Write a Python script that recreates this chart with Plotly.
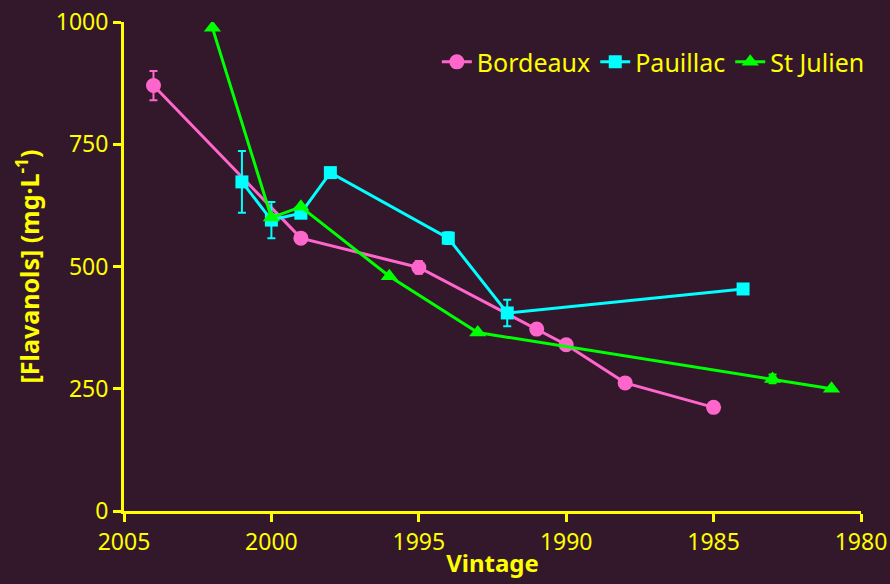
import plotly.graph_objects as go

# Bordeaux
bordeaux_year = [2004, 1999, 1995, 1991, 1990, 1988, 1985]
bordeaux_val = [870, 558, 498, 372, 340, 262, 212]
bordeaux_err = [30, 0, 13, 0, 0, 0, 0]

# Pauillac
pauillac_year = [2001, 2000, 1999, 1998, 1994, 1992, 1984]
pauillac_val = [673, 595, 609, 692, 558, 405, 454]
pauillac_err = [63, 37, 0, 0, 12, 27, 0]

# St Julien
julien_year = [2002, 2000, 1999, 1996, 1993, 1983, 1981]
julien_val = [988, 600, 622, 480, 365, 270, 250]
julien_err = [0, 0, 0, 0, 0, 9, 0]

x_ticks = [2005, 2000, 1995, 1990, 1985, 1980]
y_ticks = [0, 250, 500, 750, 1000]

YELLOW = '#ffff00'
BG = '#33172b'
FONT = 'Comic Sans MS, Noto Sans, DejaVu Sans, sans-serif'

series = [
    ('Bordeaux', bordeaux_year, bordeaux_val, bordeaux_err, '#ff66cc', 'circle', 15),
    ('Pauillac', pauillac_year, pauillac_val, pauillac_err, '#00ffff', 'square', 13),
    ('St Julien', julien_year, julien_val, julien_err, '#00ff00', 'triangle-up', 15),
]

fig = go.Figure()

for name, xs, ys, errs, color, symbol, size in series:
    fig.add_trace(go.Scatter(
        x = xs,
        y = ys,
        name = name,
        mode = 'lines+markers',
        line = dict(color = color, width = 3),
        marker = dict(color = color, symbol = symbol, size = size, line = dict(width = 0)),
        error_y = dict(type = 'data', array = errs, color = color, thickness = 2, width = 4, visible = True)
    ))

fig.update_layout(
    width = 890,
    height = 584,
    paper_bgcolor = BG,
    plot_bgcolor = BG,
    margin = dict(l = 124, r = 29, t = 22, b = 73, autoexpand = False),
    font = dict(family = FONT, color = YELLOW, size = 22),
    xaxis = dict(
        range = [2005, 1980],
        tickvals = x_ticks,
        ticks = 'outside',
        ticklen = 8,
        tickwidth = 3,
        tickcolor = YELLOW,
        showline = True,
        linecolor = YELLOW,
        linewidth = 3,
        showgrid = False,
        zeroline = False,
        automargin = False,
        tickfont = dict(size = 23, color = YELLOW),
        title = dict(text = '<b>Vintage</b>', font = dict(size = 24, color = YELLOW), standoff = 0)
    ),
    yaxis = dict(
        range = [0, 1000],
        tickvals = y_ticks,
        ticks = 'outside',
        ticklen = 8,
        tickwidth = 3,
        tickcolor = YELLOW,
        showline = True,
        linecolor = YELLOW,
        linewidth = 3,
        showgrid = False,
        zeroline = False,
        automargin = False,
        tickfont = dict(size = 23, color = YELLOW),
        title = dict(text = '<b>[Flavanols] (mg·L<sup>-1</sup>)</b>', font = dict(size = 25, color = YELLOW), standoff = 10)
    ),
    legend = dict(
        orientation = 'h',
        x = 1.012,
        xanchor = 'right',
        y = 0.918,
        yanchor = 'middle',
        font = dict(size = 25, color = YELLOW),
        bgcolor = 'rgba(0,0,0,0)',
        itemwidth = 30,
        tracegroupgap = 0
    ),
    showlegend = True
)

fig.write_html('out.html', config = {'displayModeBar': False},
               post_script = "document.body.style.margin = '0';")
